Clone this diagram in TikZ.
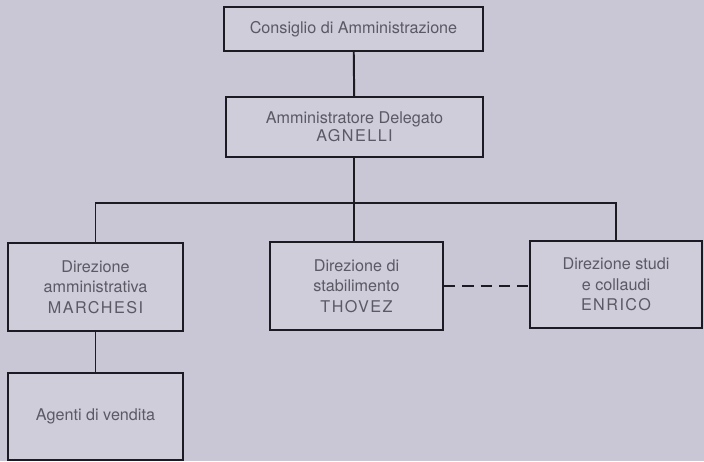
\documentclass[tikz,border=0pt]{standalone}
\usepackage{fontspec}
\setmainfont{TeX Gyre Heros}
\usepackage{xcolor}
\usepackage{tikz}
\usetikzlibrary{positioning,calc}
\definecolor{carta}{HTML}{C9C7D5}
\definecolor{riquadro}{HTML}{CFCDDA}
\definecolor{inchiostro}{HTML}{1C1B24}
\definecolor{testo}{HTML}{5A5964}
\newcommand{\persona}[1]{{\addfontfeature{LetterSpace=9}#1}}

\begin{document}
\begin{tikzpicture}[
  x=0.025cm, y=-0.025cm,
  ufficio/.style={draw=inchiostro, line width=1.4pt, fill=riquadro, text=testo,
                  align=center, inner sep=2pt,
                  font=\fontsize{11.5}{14.5}\selectfont},
  linea/.style={draw=inchiostro, line width=1.4pt},
  tratteggio/.style={draw=inchiostro, line width=1pt, dash pattern=on 8pt off 5pt},
]
% page background
\fill[carta] (0,0) rectangle (704,461);
\useasboundingbox (0,0) rectangle (704,461);

% top of the hierarchy
\node[ufficio, minimum width=6.475cm, minimum height=1.1cm] (CdA) at (353.5,29)
  {Consiglio di Amministrazione};
\node[ufficio, minimum width=6.425cm, minimum height=1.5cm,
      font=\fontsize{11.5}{12.5}\selectfont] (AD) at (354.5,127)
  {Amministratore Delegato\\\persona{AGNELLI}};

% the three directions
\node[ufficio, minimum width=4.375cm, minimum height=2.2cm] (DA) at (95.5,287)
  {Direzione\\amministrativa\\\persona{MARCHESI}};
\node[ufficio, minimum width=4.325cm, minimum height=2.2cm] (DS) at (356.5,286)
  {Direzione di\\stabilimento\\\persona{THOVEZ}};
\node[ufficio, minimum width=4.3cm, minimum height=2.175cm] (DSC) at (616,284.5)
  {Direzione studi\\e collaudi\\\persona{ENRICO}};

% sales agents under the administration
\node[ufficio, minimum width=4.375cm, minimum height=2.175cm] (AV) at (95.5,416.5)
  {Agenti di vendita};

% connectors
\coordinate (bus) at (354,203);
\draw[linea] (CdA) -- (AD);
\draw[linea] (AD.south -| bus) -- (bus);
\draw[linea] (DA.north) |- (bus) -| (DSC.north);
\draw[linea] (bus) -- (bus |- DS.north);
\draw[linea] (DA) -- (AV);
\draw[tratteggio] (DS.east) -- (DSC.west |- DS.east);
\end{tikzpicture}
\end{document}
